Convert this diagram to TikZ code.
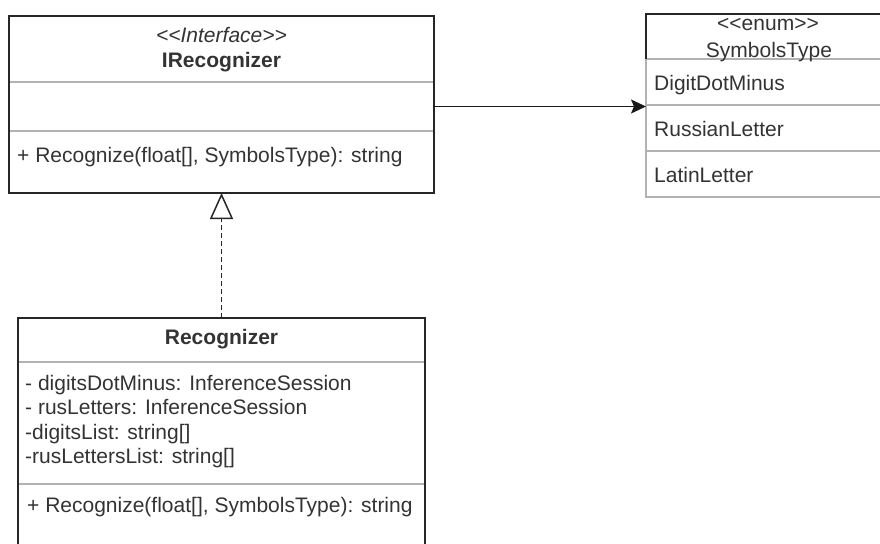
\documentclass[tikz,border=0pt]{standalone}
\usepackage{fontspec}
\setmainfont{Liberation Sans}
\usetikzlibrary{positioning,arrows.meta}

\newcommand{\umlfont}{\fontsize{21}{24.5}\selectfont}
\newcommand{\stereo}[1]{<\kern0pt<#1>\kern0pt>}

\tikzstyle{box} = [draw=black!30, line width=1.5pt, inner sep=0pt, outer sep=0pt, anchor=north west]
\tikzstyle{txt} = [inner sep=0pt, font=\umlfont, text=black!80, anchor=base]
\tikzstyle{member} = [txt, anchor=base west, align=left]

\begin{document}
\begin{tikzpicture}[x=1pt, y=-1pt]
\useasboundingbox (0,0) rectangle (880,543);

% interface
\node[box, minimum width=425pt, minimum height=66pt] (ihead) at (9,16) {};
\node[box, minimum width=425pt, minimum height=49pt, below=0pt of ihead] (iattr) {};
\node[box, minimum width=425pt, minimum height=62pt, below=0pt of iattr] (iops) {};
\draw[line width=2pt, black!85] (ihead.north west) rectangle (iops.south east);
\node[txt, font=\umlfont\itshape] (istereo) at ([yshift=-26pt]ihead.north) {\stereo{Interface}};
\node[txt, font=\umlfont\bfseries] (iname) at ([yshift=-51pt]ihead.north) {IRecognizer};
\node[member] (iop) at ([xshift=8pt, yshift=-31pt]iops.north west) {+ Recognize(float[], SymbolsType): string};

% enum
\node[box, draw=black!85, minimum width=240pt, minimum height=45pt] (ehead) at (646,14) {};
\node[box, minimum width=240pt, minimum height=46pt, below=0pt of ehead] (eitem1) {};
\node[box, minimum width=240pt, minimum height=46pt, below=0pt of eitem1] (eitem2) {};
\node[box, minimum width=240pt, minimum height=46pt, below=0pt of eitem2] (eitem3) {};
\draw[line width=1.5pt, black!85] (ehead.south west) |- (ehead.north east);
\node[txt] (estereo) at ([xshift=2pt, yshift=-17pt]ehead.north) {\stereo{enum}};
\node[txt] (ename) at ([xshift=3pt, yshift=-43pt]ehead.north) {SymbolsType};
\node[member] (eval1) at ([xshift=8pt, yshift=-31pt]eitem1.north west) {DigitDotMinus};
\node[member] (eval2) at ([xshift=8pt, yshift=-31pt]eitem2.north west) {RussianLetter};
\node[member] (eval3) at ([xshift=8pt, yshift=-31pt]eitem3.north west) {LatinLetter};

% class
\node[box, minimum width=407pt, minimum height=44pt] (rhead) at (18,318) {};
\node[box, minimum width=407pt, minimum height=122pt, below=0pt of rhead] (rattr) {};
\node[box, minimum width=407pt, minimum height=80pt, below=0pt of rattr] (rops) {};
\draw[line width=2pt, black!85] (rops.south west) |- (rhead.north) -| (rops.south east);
\node[txt, font=\umlfont\bfseries] (rname) at ([yshift=-26pt]rhead.north) {Recognizer};
% base of a multi-line node is its last line
\node[member] (rfields) at ([xshift=7pt, yshift=-101.5pt]rattr.north west)
    {- digitsDotMinus: InferenceSession\\- rusLetters: InferenceSession\\-digitsList: string[]\\-rusLettersList: string[]};
\node[member] (rop) at ([xshift=9pt, yshift=-28pt]rops.north west) {+ Recognize(float[], SymbolsType): string};

% relations
\draw[line width=1.8pt, black!85, dash pattern=on 5pt off 3pt,
      -{Triangle[open, length=26pt, width=23pt, line width=1.5pt]}] (rhead.north) -- (iops.south);
\draw[line width=1.5pt, black!90, -{Stealth[length=15pt, width=14pt, inset=3pt]}]
    (iattr.east) -- (iattr.east -| ehead.west);
\end{tikzpicture}
\end{document}
